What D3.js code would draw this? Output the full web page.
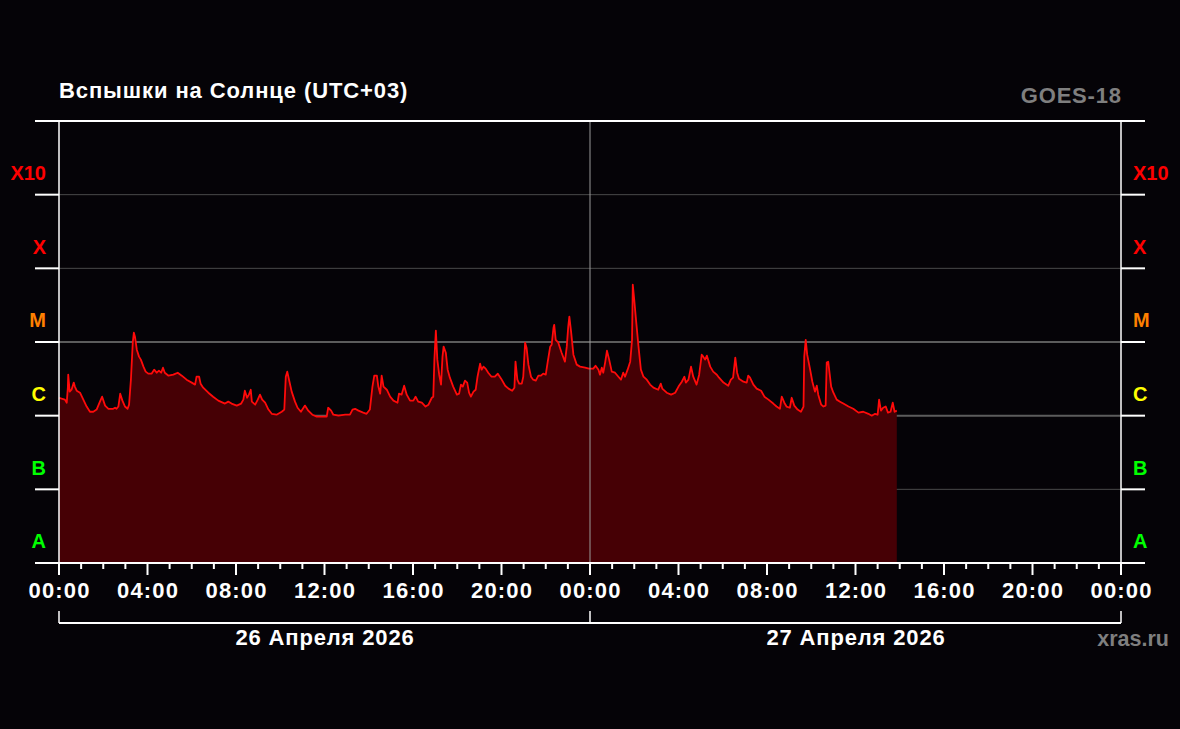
<!DOCTYPE html>
<html>
<head>
<meta charset="utf-8">
<script src="https://cdn.jsdelivr.net/npm/d3@7"></script>
<style>
  html, body { margin: 0; background: #050307; }
  svg { display: block; font-family: "Liberation Sans", Arial, sans-serif; font-weight: bold; }
</style>
</head>
<body>
<svg id="chart" width="1180" height="729"></svg>
<script>
// GOES-18 X-ray flux, minutes from 26 Apr 2026 00:00 (UTC+03)
const minutes = [0,7,16,21,24,25,29,34,40,43,48,57,66,75,84,93,102,111,117,125,134,147,152,156,161,166,172,179,186,190,
  195,200,203,206,211,217,222,229,235,242,251,258,265,271,277,282,287,297,310,322,333,346,360,369,373,380,384,391,405,418,432,450,
  459,468,482,494,500,504,510,515,520,523,532,539,545,551,559,568,577,590,604,611,615,619,625,631,640,647,656,667,676,687,
  699,726,730,738,744,758,776,789,796,803,812,825,834,843,850,855,862,866,871,875,880,889,898,907,
  918,922,929,936,943,952,961,967,974,984,994,1002,1011,1015,1018,1022,1026,1031,1036,1040,1043,1049,1054,1060,1069,1079,1085,1090,1095,1101,
  1107,1112,1117,1124,1130,1135,1142,1146,1151,1157,1164,1173,1182,1190,1199,1210,1219,1229,1235,1238,1243,1248,1255,1259,1264,1268,1273,1280,1286,1293,
  1300,1307,1313,1320,1325,1332,1336,1341,1343,1347,1354,1363,1372,
  1377,1381,1384,1389,1395,1404,1413,1427,1437,1449,1455,1463,1467,1472,1476,1481,1486,1492,1499,1508,1517,1524,1530,1535,1542,1549,1554,1556,1560,1564,
  1571,1578,1585,1594,1603,1612,1625,1632,1636,1648,1660,1671,1680,1689,1696,1700,1707,1714,1720,1729,1736,1743,1747,1752,1757,1766,1774,1784,1790,1802,
  1815,1822,1828,1834,1839,
  1844,1856,1865,1869,1874,1883,1892,1904,1913,1924,1937,1946,1955,1960,1967,1973,1982,1987,1994,2003,2012,2019,2021,2025,2029,2037,2043,2050,2055,2059,
  2067,2073,2079,2082,2086,2094,2100,2109,2118,2127,2141,2154,2168,2181,2195,2204,2213,2220,2224,2229,2235,2242,2248,2255,2261,2266,2272];

// flux in units of 1e-6 W/m^2 (C-class multiplier)
const fluxC = [1.75,1.70,1.65,1.50,2.40,3.60,2.12,2.25,2.81,2.48,2.18,2.05,1.65,1.33,1.13,1.13,1.21,1.55,1.81,1.37,1.24,1.24,1.28,1.24,1.33,1.99,1.60,1.33,1.24,1.41,
  3.08,9.79,13.4,11.8,7.87,6.33,5.76,4.63,3.96,3.72,3.72,4.21,3.83,4.08,3.83,4.48,3.83,3.49,3.60,3.83,3.49,3.08,2.81,2.64,3.38,3.38,2.72,2.40,2.05,1.81,1.60,1.46,
  1.55,1.46,1.37,1.46,1.65,2.18,1.75,1.93,2.25,1.55,1.41,1.65,1.93,1.65,1.50,1.21,1.06,1.03,1.13,1.21,3.38,3.96,2.89,2.12,1.55,1.28,1.13,1.37,1.17,1.03,
  0.97,0.97,1.28,1.17,1.03,1.00,1.03,1.03,1.21,1.24,1.17,1.10,1.06,1.21,2.48,3.49,3.49,2.48,1.99,3.49,2.48,2.25,1.81,1.60,
  1.50,1.99,1.93,2.55,1.93,1.60,1.60,1.81,1.55,1.50,1.33,1.41,1.75,1.81,5.76,14.3,5.76,3.60,2.64,6.33,8.64,7.16,4.21,3.28,2.48,1.93,1.99,2.64,2.48,2.99,
  2.81,2.05,1.81,2.12,2.25,3.38,5.08,4.21,4.63,4.35,3.83,3.38,3.38,3.72,3.18,2.55,2.33,2.18,2.40,5.41,3.08,2.72,2.72,3.38,9.79,8.37,4.93,3.38,3.08,2.99,
  3.49,3.49,3.72,3.60,5.25,8.64,9.19,15.6,17.1,10.7,9.79,7.16,5.41,
  8.64,16.2,22.1,13.4,6.73,4.93,4.63,4.48,4.35,4.35,4.77,4.21,3.60,4.48,3.83,5.25,7.62,5.76,3.96,3.83,3.38,3.08,3.83,3.38,4.21,5.41,10.7,60,37.5,22.1,
  9.19,4.21,3.38,3.08,2.64,2.40,2.25,2.72,2.33,2.05,1.93,2.05,2.48,2.89,3.38,2.81,3.08,4.63,3.38,2.64,3.60,6.73,6.33,5.76,6.52,4.63,3.96,3.60,3.28,2.81,
  2.55,3.08,3.28,6.13,3.83,
  3.18,2.89,2.81,3.49,3.28,2.64,2.33,2.18,1.81,1.65,1.46,1.33,1.24,1.81,1.50,1.33,1.28,1.75,1.37,1.21,1.13,1.33,6.33,10.7,6.73,4.21,2.89,2.12,2.55,1.93,
  1.41,1.33,1.37,5.25,5.41,2.48,2.05,1.65,1.55,1.46,1.33,1.24,1.10,1.13,1.06,1.00,1.06,1.03,1.65,1.17,1.28,1.33,1.10,1.13,1.50,1.13,1.17];

const classNames  = ["A", "B", "C", "M", "X", "X10"];
const classColors = ["#00ff00", "#00ff00", "#ffff00", "#ff8000", "#ff0000", "#ff0000"];
const decades     = [1e-8, 1e-7, 1e-6, 1e-5, 1e-4, 1e-3, 1e-2];
const dayLabels   = ["26 Апреля 2026", "27 Апреля 2026"];

const svg = d3.select("#chart");
const L = 59, R = 1121, T = 121, B = 563;
const t0 = Date.UTC(2026, 3, 26);
const hour = 3600e3;

const x = d3.scaleUtc().domain([new Date(t0), new Date(t0 + 48 * hour)]).range([L, R]);
const y = d3.scaleLog().domain([1e-8, 1e-2]).range([B, T]);

const data = minutes.map((m, i) => ({ t: new Date(t0 + m * 60e3), f: fluxC[i] * 1e-6 }));

svg.append("rect").attr("width", 1180).attr("height", 729).attr("fill", "#050307");

// horizontal grid (under the flux area)
svg.append("g").selectAll("line").data(decades.slice(1, -1)).join("line")
  .attr("x1", L).attr("x2", R)
  .attr("y1", d => y(d)).attr("y2", d => y(d))
  .attr("stroke", d => (d === 1e-6 || d === 1e-5) ? "#5c5c5c" : "#4a4a4a")
  .attr("stroke-width", d => (d === 1e-6 || d === 1e-5) ? 2 : 1);

// flux area + line
svg.append("path").datum(data)
  .attr("fill", "#460005")
  .attr("d", d3.area().x(d => x(d.t)).y0(B).y1(d => y(d.f)));
svg.append("path").datum(data)
  .attr("fill", "none").attr("stroke", "#ff0a0a").attr("stroke-width", 1.8)
  .attr("stroke-linejoin", "round")
  .attr("d", d3.line().x(d => x(d.t)).y(d => y(d.f)));

// midnight divider
svg.append("line")
  .attr("x1", x(new Date(t0 + 24 * hour))).attr("x2", x(new Date(t0 + 24 * hour)))
  .attr("y1", T).attr("y2", B).attr("stroke", "#9a9a9a").attr("stroke-width", 1);

// frame
const white = "#ffffff";
svg.append("g").selectAll("line").data(decades).join("line")
  .attr("x1", 35)
  .attr("x2", d => (d === 1e-8 || d === 1e-2) ? 1145 : L)
  .attr("y1", d => y(d)).attr("y2", d => y(d))
  .attr("stroke", white).attr("stroke-width", 2);
svg.append("g").selectAll("line").data(decades.slice(1, -1)).join("line")
  .attr("x1", R).attr("x2", 1145)
  .attr("y1", d => y(d)).attr("y2", d => y(d))
  .attr("stroke", white).attr("stroke-width", 2);
[L, R].forEach(px => svg.append("line")
  .attr("x1", px).attr("x2", px).attr("y1", T).attr("y2", B)
  .attr("stroke", white).attr("stroke-width", 1.5));

// class labels
const labels = classNames.map((n, i) => ({ n, c: classColors[i], f: 2 * decades[i] }));
svg.append("g").selectAll("text").data(labels).join("text")
  .attr("x", 46).attr("y", d => y(d.f) + 7.5)
  .attr("text-anchor", "end").attr("font-size", 20).attr("fill", d => d.c)
  .text(d => d.n);
svg.append("g").selectAll("text").data(labels).join("text")
  .attr("x", 1133).attr("y", d => y(d.f) + 7.5)
  .attr("text-anchor", "start").attr("font-size", 20).attr("fill", d => d.c)
  .text(d => d.n);

// x axis: hourly minor ticks, 4-hourly major ticks with labels
svg.append("g").selectAll("line").data(x.ticks(d3.utcHour.every(1))).join("line")
  .attr("x1", d => x(d)).attr("x2", d => x(d))
  .attr("y1", B).attr("y2", d => d.getUTCHours() % 4 === 0 ? B + 12 : B + 6)
  .attr("stroke", white).attr("stroke-width", 2);
const fmt = d3.utcFormat("%H:%M");
svg.append("g").selectAll("text").data(x.ticks(d3.utcHour.every(4))).join("text")
  .attr("x", d => x(d) + 0.6).attr("y", 598)
  .attr("text-anchor", "middle").attr("font-size", 22).attr("letter-spacing", 1.2)
  .attr("fill", white)
  .text(fmt);

// day bracket
const bracketY = 623;
svg.append("line").attr("x1", L).attr("x2", R).attr("y1", bracketY).attr("y2", bracketY)
  .attr("stroke", white).attr("stroke-width", 2);
[0, 24, 48].forEach(h => svg.append("line")
  .attr("x1", x(new Date(t0 + h * hour))).attr("x2", x(new Date(t0 + h * hour)))
  .attr("y1", 611).attr("y2", bracketY)
  .attr("stroke", white).attr("stroke-width", 1.5));
svg.append("g").selectAll("text").data(dayLabels).join("text")
  .attr("x", (d, i) => x(new Date(t0 + (12 + 24 * i) * hour)) + 0.5).attr("y", 645)
  .attr("text-anchor", "middle").attr("font-size", 22).attr("letter-spacing", 0.85)
  .attr("fill", white)
  .text(d => d);

// titles
svg.append("text").attr("x", L).attr("y", 98).attr("font-size", 22).attr("letter-spacing", 0.9)
  .attr("fill", white).text("Вспышки на Солнце (UTC+03)");
svg.append("text").attr("x", R + 0.8).attr("y", 103).attr("text-anchor", "end")
  .attr("font-size", 22).attr("letter-spacing", 0.8)
  .attr("fill", "#7f7f7f").text("GOES-18");
svg.append("text").attr("x", 1169).attr("y", 646).attr("text-anchor", "end")
  .attr("font-size", 21.5).attr("fill", "#7f7f7f").text("xras.ru");
</script>
</body>
</html>
